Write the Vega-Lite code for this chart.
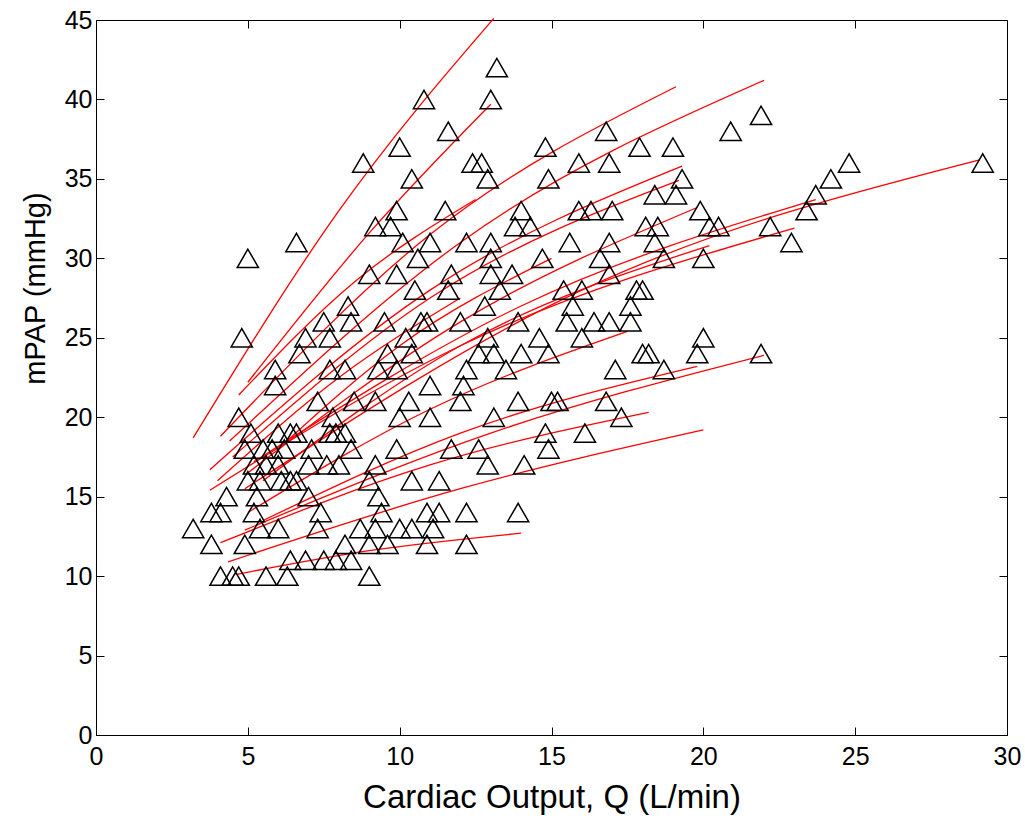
{
  "$schema": "https://vega.github.io/schema/vega-lite/v6.json",
  "width": 911,
  "height": 715,
  "autosize": {"type": "none"},
  "padding": {"left": 96, "top": 20, "right": 18, "bottom": 92},
  "background": "white",
  "config": {
    "view": {"stroke": "black", "strokeWidth": 1},
    "axis": {
      "domainColor": "black",
      "tickColor": "black",
      "tickSize": -8,
      "grid": false,
      "labelFlush": false,
      "labelFont": "Liberation Sans",
      "labelFontSize": 25,
      "labelColor": "black",
      "titleFont": "Liberation Sans",
      "titleFontWeight": "normal",
      "titleColor": "black"
    }
  },
  "datasets": {
    "pts": [
      {"Q":13.2,"mPAP":42},{"Q":10.8,"mPAP":40},{"Q":13.0,"mPAP":40},{"Q":21.9,"mPAP":39},{"Q":11.6,"mPAP":38},{"Q":16.8,"mPAP":38},{"Q":20.9,"mPAP":38},
      {"Q":10.0,"mPAP":37},{"Q":14.8,"mPAP":37},{"Q":17.9,"mPAP":37},{"Q":19.0,"mPAP":37},
      {"Q":8.8,"mPAP":36},{"Q":12.4,"mPAP":36},{"Q":12.7,"mPAP":36},{"Q":15.9,"mPAP":36},{"Q":16.9,"mPAP":36},{"Q":24.8,"mPAP":36},{"Q":29.2,"mPAP":36},
      {"Q":10.4,"mPAP":35},{"Q":12.9,"mPAP":35},{"Q":14.9,"mPAP":35},{"Q":19.3,"mPAP":35},{"Q":24.2,"mPAP":35},
      {"Q":19.1,"mPAP":34},{"Q":18.4,"mPAP":34},{"Q":23.7,"mPAP":34},
      {"Q":23.4,"mPAP":33},{"Q":9.9,"mPAP":33},{"Q":11.5,"mPAP":33},{"Q":14.0,"mPAP":33},{"Q":15.9,"mPAP":33},{"Q":16.3,"mPAP":33},{"Q":17.0,"mPAP":33},{"Q":19.9,"mPAP":33},
      {"Q":9.2,"mPAP":32},{"Q":9.7,"mPAP":32},{"Q":13.8,"mPAP":32},{"Q":14.3,"mPAP":32},{"Q":18.1,"mPAP":32},{"Q":18.5,"mPAP":32},{"Q":20.2,"mPAP":32},{"Q":20.5,"mPAP":32},{"Q":22.2,"mPAP":32},
      {"Q":6.6,"mPAP":31},{"Q":10.1,"mPAP":31},{"Q":11.0,"mPAP":31},{"Q":12.2,"mPAP":31},{"Q":13.0,"mPAP":31},{"Q":15.6,"mPAP":31},{"Q":16.9,"mPAP":31},{"Q":18.4,"mPAP":31},{"Q":22.9,"mPAP":31},
      {"Q":5.0,"mPAP":30},{"Q":10.6,"mPAP":30},{"Q":13.0,"mPAP":30},{"Q":14.7,"mPAP":30},{"Q":16.6,"mPAP":30},{"Q":18.7,"mPAP":30},{"Q":20.0,"mPAP":30},
      {"Q":9.0,"mPAP":29},{"Q":9.9,"mPAP":29},{"Q":11.7,"mPAP":29},{"Q":13.0,"mPAP":29},{"Q":13.7,"mPAP":29},{"Q":16.9,"mPAP":29},
      {"Q":10.5,"mPAP":28},{"Q":11.6,"mPAP":28},{"Q":13.3,"mPAP":28},{"Q":15.4,"mPAP":28},{"Q":16.0,"mPAP":28},{"Q":17.8,"mPAP":28},{"Q":18.0,"mPAP":28},
      {"Q":8.3,"mPAP":27},{"Q":12.8,"mPAP":27},{"Q":15.7,"mPAP":27},{"Q":17.6,"mPAP":27},
      {"Q":7.5,"mPAP":26},{"Q":8.4,"mPAP":26},{"Q":9.5,"mPAP":26},{"Q":10.7,"mPAP":26},{"Q":10.9,"mPAP":26},{"Q":12.0,"mPAP":26},{"Q":13.9,"mPAP":26},{"Q":15.5,"mPAP":26},{"Q":16.4,"mPAP":26},{"Q":16.9,"mPAP":26},{"Q":17.6,"mPAP":26},
      {"Q":4.8,"mPAP":25},{"Q":6.9,"mPAP":25},{"Q":7.7,"mPAP":25},{"Q":10.2,"mPAP":25},{"Q":12.9,"mPAP":25},{"Q":14.6,"mPAP":25},{"Q":16.0,"mPAP":25},{"Q":20.0,"mPAP":25},
      {"Q":6.7,"mPAP":24},{"Q":9.6,"mPAP":24},{"Q":10.4,"mPAP":24},{"Q":12.6,"mPAP":24},{"Q":13.1,"mPAP":24},{"Q":14.0,"mPAP":24},{"Q":14.9,"mPAP":24},{"Q":18.0,"mPAP":24},{"Q":18.2,"mPAP":24},{"Q":19.8,"mPAP":24},{"Q":21.9,"mPAP":24},
      {"Q":5.9,"mPAP":23},{"Q":7.7,"mPAP":23},{"Q":8.2,"mPAP":23},{"Q":9.3,"mPAP":23},{"Q":9.9,"mPAP":23},{"Q":12.2,"mPAP":23},{"Q":13.5,"mPAP":23},{"Q":17.1,"mPAP":23},{"Q":18.7,"mPAP":23},
      {"Q":5.9,"mPAP":22},{"Q":11.0,"mPAP":22},{"Q":12.1,"mPAP":22},
      {"Q":7.3,"mPAP":21},{"Q":8.5,"mPAP":21},{"Q":9.2,"mPAP":21},{"Q":10.3,"mPAP":21},{"Q":12.0,"mPAP":21},{"Q":13.9,"mPAP":21},{"Q":15.0,"mPAP":21},{"Q":15.2,"mPAP":21},{"Q":16.8,"mPAP":21},
      {"Q":4.7,"mPAP":20},{"Q":7.8,"mPAP":20},{"Q":10.0,"mPAP":20},{"Q":11.0,"mPAP":20},{"Q":13.1,"mPAP":20},{"Q":17.3,"mPAP":20},
      {"Q":5.1,"mPAP":19},{"Q":6.0,"mPAP":19},{"Q":6.4,"mPAP":19},{"Q":6.6,"mPAP":19},{"Q":7.7,"mPAP":19},{"Q":7.9,"mPAP":19},{"Q":8.2,"mPAP":19},{"Q":14.8,"mPAP":19},{"Q":16.1,"mPAP":19},
      {"Q":4.9,"mPAP":18},{"Q":5.5,"mPAP":18},{"Q":5.8,"mPAP":18},{"Q":6.2,"mPAP":18},{"Q":7.1,"mPAP":18},{"Q":8.4,"mPAP":18},{"Q":9.9,"mPAP":18},{"Q":11.7,"mPAP":18},{"Q":12.6,"mPAP":18},{"Q":14.9,"mPAP":18},
      {"Q":5.2,"mPAP":17},{"Q":5.6,"mPAP":17},{"Q":6.0,"mPAP":17},{"Q":7.0,"mPAP":17},{"Q":7.6,"mPAP":17},{"Q":8.0,"mPAP":17},{"Q":9.2,"mPAP":17},{"Q":12.9,"mPAP":17},{"Q":14.1,"mPAP":17},
      {"Q":5.0,"mPAP":16},{"Q":5.4,"mPAP":16},{"Q":6.1,"mPAP":16},{"Q":6.4,"mPAP":16},{"Q":6.6,"mPAP":16},{"Q":9.0,"mPAP":16},{"Q":10.4,"mPAP":16},{"Q":11.3,"mPAP":16},
      {"Q":4.3,"mPAP":15},{"Q":5.3,"mPAP":15},{"Q":7.0,"mPAP":15},{"Q":9.3,"mPAP":15},
      {"Q":3.8,"mPAP":14},{"Q":4.1,"mPAP":14},{"Q":5.2,"mPAP":14},{"Q":7.4,"mPAP":14},{"Q":9.4,"mPAP":14},{"Q":10.9,"mPAP":14},{"Q":11.3,"mPAP":14},{"Q":12.2,"mPAP":14},{"Q":13.9,"mPAP":14},
      {"Q":3.2,"mPAP":13},{"Q":5.4,"mPAP":13},{"Q":6.0,"mPAP":13},{"Q":7.3,"mPAP":13},{"Q":8.7,"mPAP":13},{"Q":9.2,"mPAP":13},{"Q":10.0,"mPAP":13},{"Q":10.4,"mPAP":13},{"Q":11.1,"mPAP":13},
      {"Q":3.8,"mPAP":12},{"Q":4.9,"mPAP":12},{"Q":8.2,"mPAP":12},{"Q":9.0,"mPAP":12},{"Q":9.6,"mPAP":12},{"Q":10.9,"mPAP":12},{"Q":12.2,"mPAP":12},
      {"Q":6.4,"mPAP":11},{"Q":6.9,"mPAP":11},{"Q":7.5,"mPAP":11},{"Q":7.9,"mPAP":11},{"Q":8.4,"mPAP":11},
      {"Q":4.1,"mPAP":10},{"Q":4.5,"mPAP":10},{"Q":4.7,"mPAP":10},{"Q":5.6,"mPAP":10},{"Q":6.3,"mPAP":10},{"Q":9.0,"mPAP":10}
    ],
    "fits": [
      {"id":"A","Q":3.2,"mPAP":18.7},{"id":"A","Q":8.0,"mPAP":33.0},{"id":"A","Q":13.1,"mPAP":45.1},
      {"id":"B","Q":5.0,"mPAP":22.2},{"id":"B","Q":9.0,"mPAP":31.6},{"id":"B","Q":13.0,"mPAP":39.7},
      {"id":"C","Q":4.7,"mPAP":21.4},{"id":"C","Q":8.5,"mPAP":28.5},{"id":"C","Q":12.5,"mPAP":33.7},
      {"id":"D","Q":4.1,"mPAP":18.8},{"id":"D","Q":11.0,"mPAP":31.5},{"id":"D","Q":19.1,"mPAP":40.8},
      {"id":"E","Q":4.4,"mPAP":18.5},{"id":"E","Q":12.0,"mPAP":31.0},{"id":"E","Q":22.0,"mPAP":41.2},
      {"id":"F","Q":3.75,"mPAP":16.7},{"id":"F","Q":11.0,"mPAP":28.0},{"id":"F","Q":19.3,"mPAP":35.8},
      {"id":"G","Q":4.5,"mPAP":17.5},{"id":"G","Q":11.0,"mPAP":27.5},{"id":"G","Q":19.2,"mPAP":34.9},
      {"id":"H","Q":5.0,"mPAP":16.5},{"id":"H","Q":12.0,"mPAP":26.0},{"id":"H","Q":19.8,"mPAP":33.2},
      {"id":"I","Q":5.5,"mPAP":16.0},{"id":"I","Q":12.0,"mPAP":24.5},{"id":"I","Q":20.2,"mPAP":30.8},
      {"id":"J","Q":5.2,"mPAP":17.2},{"id":"J","Q":14.0,"mPAP":27.0},{"id":"J","Q":23.7,"mPAP":33.7},
      {"id":"K","Q":3.75,"mPAP":15.4},{"id":"K","Q":12.0,"mPAP":24.5},{"id":"K","Q":23.0,"mPAP":31.9},
      {"id":"L","Q":4.9,"mPAP":15.5},{"id":"L","Q":16.0,"mPAP":28.0},{"id":"L","Q":29.1,"mPAP":36.2},
      {"id":"M","Q":5.0,"mPAP":14.0},{"id":"M","Q":11.0,"mPAP":20.5},{"id":"M","Q":17.5,"mPAP":25.4},
      {"id":"N","Q":5.5,"mPAP":13.5},{"id":"N","Q":12.0,"mPAP":19.0},{"id":"N","Q":19.8,"mPAP":23.2},
      {"id":"O","Q":4.9,"mPAP":12.9},{"id":"O","Q":13.0,"mPAP":19.0},{"id":"O","Q":22.0,"mPAP":23.9},
      {"id":"P","Q":4.1,"mPAP":12.1},{"id":"P","Q":11.0,"mPAP":17.0},{"id":"P","Q":18.2,"mPAP":20.3},
      {"id":"Q","Q":4.35,"mPAP":10.9},{"id":"Q","Q":12.0,"mPAP":15.5},{"id":"Q","Q":20.0,"mPAP":19.2},
      {"id":"R","Q":4.6,"mPAP":10.1},{"id":"R","Q":9.0,"mPAP":11.6},{"id":"R","Q":14.0,"mPAP":12.7},
      {"id":"S","Q":4.0,"mPAP":16.0},{"id":"S","Q":8.0,"mPAP":22.5},{"id":"S","Q":12.0,"mPAP":27.5},
      {"id":"T","Q":6.0,"mPAP":18.0},{"id":"T","Q":10.0,"mPAP":24.5},{"id":"T","Q":15.0,"mPAP":30.0}
    ]
  },
  "resolve": {"axis": {"x": "independent", "y": "independent"}},
  "layer": [
    {
      "data": {"name": "fits"},
      "mark": {"type": "line", "color": "#ff0000", "strokeWidth": 1.3, "interpolate": "monotone"},
      "encoding": {
        "x": {"field": "Q", "type": "quantitative", "scale": {"domain": [0, 30], "nice": false},
              "axis": {"orient": "top", "labels": false, "title": null, "domain": false, "values": [0,5,10,15,20,25,30]}},
        "y": {"field": "mPAP", "type": "quantitative", "scale": {"domain": [0, 45], "nice": false},
              "axis": {"orient": "right", "labels": false, "title": null, "domain": false, "values": [0,5,10,15,20,25,30,35,40,45]}},
        "detail": {"field": "id", "type": "nominal"}
      }
    },
    {
      "data": {"name": "pts"},
      "mark": {"type": "point", "shape": "triangle-up", "size": 450, "filled": false, "stroke": "black", "strokeWidth": 1.5, "opacity": 1},
      "encoding": {
        "x": {"field": "Q", "type": "quantitative", "scale": {"domain": [0, 30], "nice": false},
              "axis": {"orient": "bottom", "title": "Cardiac Output, Q (L/min)", "titleFontSize": 33, "values": [0,5,10,15,20,25,30], "labelPadding": 17, "titlePadding": 12}},
        "y": {"field": "mPAP", "type": "quantitative", "scale": {"domain": [0, 45], "nice": false},
              "axis": {"orient": "left", "title": "mPAP (mmHg)", "titleFontSize": 29, "titleY": 268, "values": [0,5,10,15,20,25,30,35,40,45], "labelPadding": 12, "titlePadding": 14}}
      }
    }
  ]
}
